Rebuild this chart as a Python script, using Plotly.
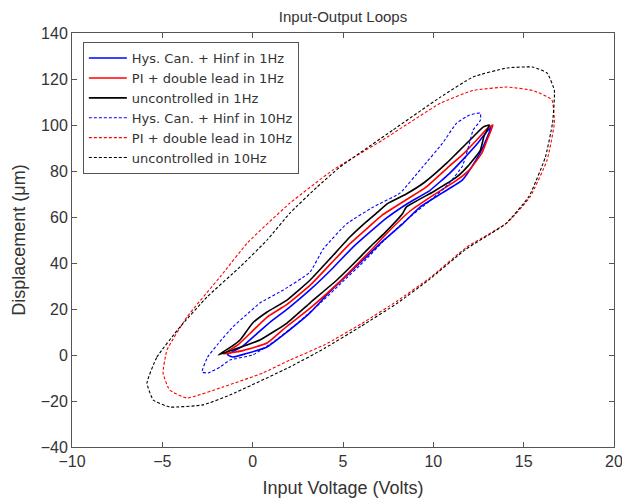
import plotly.graph_objects as go

# ---------------- data ----------------
hys1_x = [-1.4, -0.6, 0.2, 1.0, 2.0, 3.2, 4.4, 5.5, 6.5, 7.4, 8.6, 9.8, 10.9, 11.7, 12.5, 13.0, 13.2,
          12.75, 12.3, 11.6, 10.5, 9.26, 8.3, 7.2, 6.2, 5.2, 4.2, 3.17, 1.9, 0.8, -0.4, -1.1, -1.4]
hys1_y = [0.2, 3.5, 9.0, 14.5, 20.5, 28.5, 37.5, 46.5, 53.5, 59.5, 66.0, 71.5, 79.0, 85.5, 92.5, 97.5, 99.0,
          90.4, 84.0, 76.0, 70.5, 64.3, 57.0, 49.5, 42.0, 34.5, 27.0, 18.3, 10.0, 3.5, 0.5, -0.9, 0.2]

pi1_x = [-1.6, -0.8, 0.0, 0.8, 1.9, 3.2, 4.3, 5.4, 6.4, 7.2, 8.5, 9.6, 10.8, 11.6, 12.4, 13.0, 13.3,
         13.0, 12.7, 12.0, 11.3, 10.0, 8.7, 7.5, 6.6, 5.6, 4.7, 3.2, 1.9, 0.8, -0.5, -1.6]
pi1_y = [0.5, 4.5, 10.5, 16.5, 22.0, 30.5, 39.5, 48.5, 55.5, 61.0, 67.5, 73.0, 81.5, 87.0, 93.5, 98.5, 100.0,
         94.0, 88.0, 80.5, 76.0, 69.5, 62.5, 53.5, 46.0, 38.0, 31.0, 20.5, 12.5, 5.2, 2.0, 0.5]

unc1_x = [-1.9, -1.2, -0.7, 0.0, 0.8, 1.9, 3.17, 4.3, 5.38, 6.3, 6.9, 7.5, 8.5, 9.5, 10.75, 11.3, 12.2, 12.75, 13.1,
          12.8, 12.6, 11.9, 11.3, 10.0, 8.5, 8.3, 7.3, 6.5, 5.5, 4.66, 3.17, 1.9, 0.4, -1.1, -1.9]
unc1_y = [0.0, 3.5, 6.5, 13.9, 18.7, 23.9, 32.5, 42.0, 51.3, 58.0, 62.0, 66.0, 70.0, 75.0, 83.5, 87.8, 94.8, 99.1, 100.0,
          95.0, 89.0, 82.0, 77.4, 71.0, 64.3, 61.5, 53.0, 47.0, 39.0, 32.6, 22.6, 13.9, 6.5, 2.2, 0.0]

hys10_x = [-2.8, -2.5, -1.9, -1.1, -0.2, 0.4, 1.7, 3.17, 3.9, 5.2, 6.66, 8.15, 9.4, 10.5, 11.3, 12.0, 12.6,
           12.6, 12.2, 12.0, 11.6, 10.8, 9.8, 8.5, 7.3, 6.2, 5.0, 3.8, 2.5, 1.2, 0.0, -1.26, -1.8, -2.47, -2.8]
hys10_y = [-7.4, -1.0, 5.0, 12.2, 18.5, 22.6, 28.3, 36.0, 46.0, 57.0, 64.3, 70.4, 81.7, 92.0, 100.9, 104.3, 105.2,
           102.0, 97.8, 92.0, 82.0, 74.0, 67.0, 58.7, 50.0, 41.0, 32.0, 23.0, 14.0, 6.0, 0.0, -2.2, -5.2, -7.8, -7.4]

pi10_x = [-4.96, -4.74, -3.64, -1.8, -0.26, 2.06, 4.44, 7.2, 10.4, 12.2, 14.07, 15.5, 16.56, 16.7, 16.3,
          15.35, 14.07, 11.86, 9.8, 8.0, 6.0, 4.0, 2.06, 0.57, -1.64, -3.64, -4.6, -4.96]
pi10_y = [-7.8, 2.2, 16.5, 34.0, 49.0, 66.0, 80.4, 93.5, 109.5, 115.0, 116.5, 115.0, 111.0, 101.0, 84.8,
          68.7, 57.4, 47.0, 33.5, 23.5, 13.5, 4.5, -2.2, -7.8, -13.9, -18.7, -15.2, -7.8]

unc10_x = [-5.85, -5.3, -4.02, -2.53, -0.7, 0.8, 2.06, 3.56, 4.83, 7.76, 10.37, 12.2, 14.07, 15.5, 16.3, 16.7, 16.6,
           16.2, 15.3, 14.0, 11.8, 9.8, 8.0, 6.0, 4.0, 2.06, -1.26, -2.75, -4.6, -5.5, -5.85]
unc10_y = [-12.2, -0.9, 12.2, 25.2, 38.3, 50.0, 61.7, 73.0, 81.7, 97.8, 112.0, 120.9, 124.8, 125.2, 122.6, 115.0, 101.0,
           86.0, 69.0, 57.0, 46.0, 33.0, 22.5, 12.5, 3.0, -5.2, -17.4, -21.7, -22.6, -19.6, -12.2]

series = [
    ("Hys. Can. + Hinf in 1Hz", hys1_x, hys1_y),
    ("PI + double lead in 1Hz", pi1_x, pi1_y),
    ("uncontrolled in 1Hz", unc1_x, unc1_y),
    ("Hys. Can. + Hinf in 10Hz", hys10_x, hys10_y),
    ("PI + double lead in 10Hz", pi10_x, pi10_y),
    ("uncontrolled in 10Hz", unc10_x, unc10_y),
]

x_ticks = [-10, -5, 0, 5, 10, 15, 20]
y_ticks = [-40, -20, 0, 20, 40, 60, 80, 100, 120, 140]

# ---------------- styles ----------------
colors = ["#0000ff", "#ff0000", "#000000", "#0000ff", "#ff0000", "#000000"]
dashes = ["solid", "solid", "solid", "3px,2px", "3px,2px", "3px,2px"]
widths = [1.6, 1.6, 1.6, 1.1, 1.1, 1.1]

fig = go.Figure()
for (name, xs, ys), c, d, w in zip(series, colors, dashes, widths):
    fig.add_trace(go.Scatter(x=xs, y=ys, mode="lines", name=name,
                             line=dict(color=c, dash=d, width=w, shape="spline", smoothing=0.4)))

font_family = "Liberation Sans, Arial, sans-serif"
axis_common = dict(showgrid=False, zeroline=False, showline=True, linecolor="#555555", linewidth=1,
                   mirror="ticks", ticks="inside", ticklen=5, tickcolor="#555555", automargin=False,
                   tickfont=dict(size=16, color="#333333", family=font_family))

# the page body adds an 8px offset, so the figure is 8px smaller than the window
fig.update_layout(
    width=622, height=490,
    margin=dict(l=64, r=16, t=25, b=51),
    paper_bgcolor="white", plot_bgcolor="white",
    font=dict(family=font_family, color="#333333", size=14),
    title=dict(text="Input-Output Loops", x=0.5386, xanchor="center", y=0.9827, yanchor="middle",
               font=dict(size=15, color="#333333")),
    xaxis=dict(range=[-10, 20], tickvals=x_ticks, title=dict(text="Input Voltage (Volts)", standoff=12,
               font=dict(size=18)), **axis_common),
    yaxis=dict(range=[-40, 140], tickvals=y_ticks, title=dict(text="Displacement (μm)", standoff=10,
               font=dict(size=18)), **axis_common),
    legend=dict(x=0.02, y=0.978, xanchor="left", yanchor="top", bgcolor="white",
                bordercolor="#555555", borderwidth=1,
                font=dict(size=13, color="#333333", family="DejaVu Sans, Liberation Sans, sans-serif"),
                itemwidth=38, tracegroupgap=0),
    showlegend=True,
)

fig.write_html("out.html")
